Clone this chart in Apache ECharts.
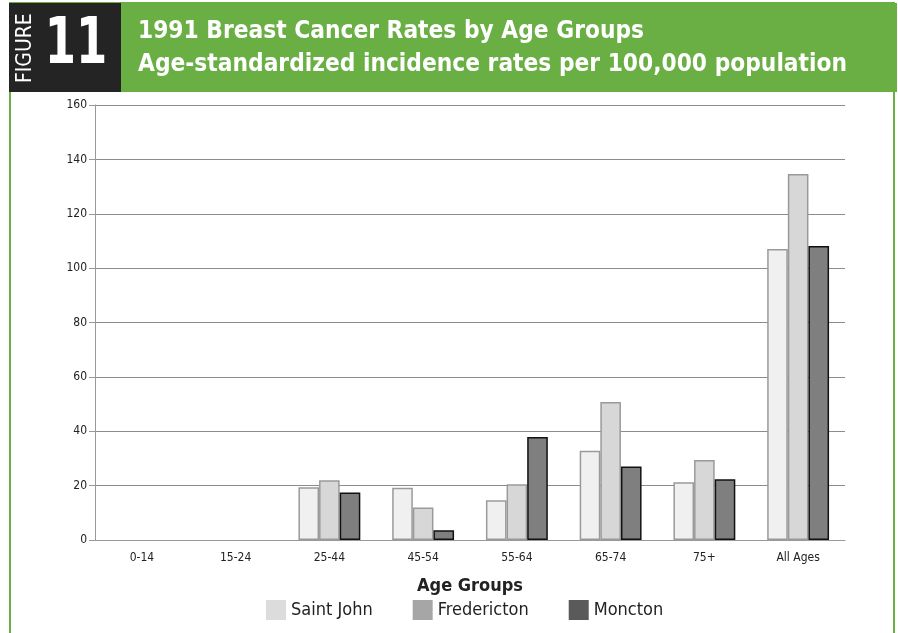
<!DOCTYPE html>
<html>
<head>
<meta charset="utf-8">
<script src="https://cdn.jsdelivr.net/npm/echarts@6/dist/echarts.min.js"></script>
<style>
	html, body { margin: 0; padding: 0; background: #fff; }
	#chart { width: 898px; height: 633px; }
</style>
</head>
<body>
<div id="chart"></div>
<script>
const ageGroups = ['0-14', '15-24', '25-44', '45-54', '55-64', '65-74', '75+', 'All Ages'];
const saintJohn = [null, null, 19.4, 19.2, 14.6, 32.8, 21.2, 107.0];
const fredericton = [null, null, 22.0, 12.0, 20.5, 50.8, 29.4, 134.6];
const moncton = [null, null, 17.5, 3.6, 37.9, 27.0, 22.3, 108.1];

const titleLine1 = '1991 Breast Cancer Rates by Age Groups';
const titleLine2 = 'Age-standardized incidence rates per 100,000 population';

const green = '#6aaf44';
const narrow = "'Liberation Sans Narrow', 'DejaVu Sans Condensed', sans-serif";
const narrowBold = "'DejaVu Sans Condensed', 'Liberation Sans Narrow', sans-serif";

const chart = echarts.init(document.getElementById('chart'), null, { renderer: 'canvas' });

function barSeries(name, data, fill, border) {
	return {
		name: name,
		type: 'bar',
		data: data,
		barGap: '0%',
		barCategoryGap: '34%',
		itemStyle: { color: fill, borderColor: border, borderWidth: 1.5 },
		emphasis: { disabled: true }
	};
}

chart.setOption({
	animation: false,
	backgroundColor: '#fff',
	grid: { left: 95, right: 53, top: 105, bottom: 93 },
	legend: {
		bottom: 8,
		left: 261,
		icon: 'rect',
		itemWidth: 20,
		itemHeight: 20,
		itemGap: 40,
		textStyle: { fontFamily: narrow, fontSize: 18, color: '#222' },
		data: [
			{ name: 'Saint John', itemStyle: { color: '#dcdcdc', borderWidth: 0 } },
			{ name: 'Fredericton', itemStyle: { color: '#a6a6a6', borderWidth: 0 } },
			{ name: 'Moncton', itemStyle: { color: '#5a5a5a', borderWidth: 0 } }
		]
	},
	xAxis: {
		type: 'category',
		data: ageGroups,
		name: 'Age Groups',
		nameLocation: 'middle',
		nameGap: 37,
		nameTextStyle: { fontFamily: narrowBold, fontWeight: 'bold', fontSize: 18, color: '#222' },
		axisLine: { lineStyle: { color: '#999' } },
		axisTick: { lineStyle: { color: '#999' }, length: 5 },
		axisLabel: { fontFamily: narrow, fontSize: 12, color: '#222', margin: 12 }
	},
	yAxis: {
		type: 'value',
		min: 0,
		max: 160,
		interval: 20,
		axisLine: { show: true, lineStyle: { color: '#999' } },
		axisTick: { show: true, length: 6, lineStyle: { color: '#999' } },
		axisLabel: { fontFamily: narrow, fontSize: 12, color: '#222', margin: 8 },
		splitLine: { lineStyle: { color: '#8c8c8c' } }
	},
	series: [
		barSeries('Saint John', saintJohn, '#f0f0f0', '#9a9a9a'),
		barSeries('Fredericton', fredericton, '#d7d7d7', '#9a9a9a'),
		barSeries('Moncton', moncton, '#7f7f7f', '#111')
	],
	graphic: [
		{
			type: 'rect', silent: true, z: -1,
			shape: { x: 10, y: 3, width: 884, height: 640 },
			style: { fill: 'none', stroke: green, lineWidth: 2 }
		},
		{
			type: 'rect', silent: true,
			shape: { x: 121, y: 3, width: 776, height: 89 },
			style: { fill: green }
		},
		{
			type: 'rect', silent: true,
			shape: { x: 9, y: 3, width: 112, height: 89 },
			style: { fill: '#242424' }
		},
		{
			type: 'text', silent: true,
			x: 36, y: 83, rotation: Math.PI / 2, scaleX: 0.95,
			style: { text: 'FIGURE', fill: '#fff', font: "22px " + narrow, textVerticalAlign: 'bottom' }
		},
		{
			type: 'text', silent: true,
			x: 76, y: 46, scaleX: 0.78,
			style: { text: '11', fill: '#fff', font: "bold 64px " + narrowBold, textAlign: 'center', textVerticalAlign: 'middle' }
		},
		{
			type: 'text', silent: true,
			x: 138, y: 31, scaleX: 0.97,
			style: { text: titleLine1, fill: '#fff', font: "bold 25px " + narrowBold, textVerticalAlign: 'middle' }
		},
		{
			type: 'text', silent: true,
			x: 138, y: 64, scaleX: 0.97,
			style: { text: titleLine2, fill: '#fff', font: "bold 25px " + narrowBold, textVerticalAlign: 'middle' }
		}
	]
});
</script>
</body>
</html>
